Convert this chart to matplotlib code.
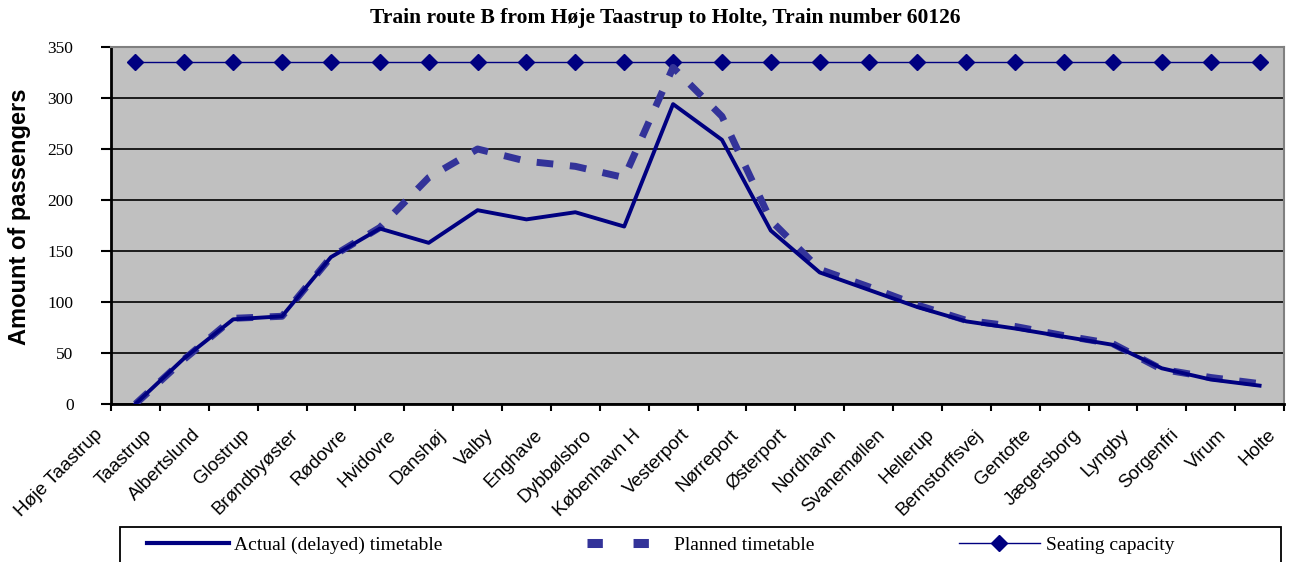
import numpy as np
import matplotlib
matplotlib.use('Agg')
import matplotlib.pyplot as plt
from matplotlib.lines import Line2D
from matplotlib.patches import Rectangle

stations = ['Høje Taastrup', 'Taastrup', 'Albertslund', 'Glostrup', 'Brøndbyøster',
            'Rødovre', 'Hvidovre', 'Danshøj', 'Valby', 'Enghave', 'Dybbølsbro',
            'København H', 'Vesterport', 'Nørreport', 'Østerport', 'Nordhavn',
            'Svanemøllen', 'Hellerup', 'Bernstorffsvej', 'Gentofte', 'Jægersborg',
            'Lyngby', 'Sorgenfri', 'Virum', 'Holte']

actual = [0, 45, 83, 86, 144, 172, 158, 190, 181, 188, 174, 294,
          259, 170, 129, 112, 95, 81, 74, 66, 58, 35, 24, 18]
planned = [0, 44, 84, 86, 144, 173, 222, 250, 238, 233, 222, 330,
           282, 180, 132, 115, 97, 82, 76, 67, 59, 34, 26, 20]
capacity = [335] * 24

W, H = 1289, 562
fig = plt.figure(figsize=(W / 100, H / 100), dpi=100)
ax = fig.add_axes([111 / W, 1 - 404 / H, (1284 - 111) / W, (404 - 47) / H])
ax.set_facecolor('#C0C0C0')

x = np.arange(len(actual)) + 0.5
ax.plot(x, capacity, color='#000080', lw=1, marker='D', ms=8, zorder=3)
ax.plot(x, planned, color='#333399', lw=5, dashes=(2.4, 2.4), zorder=4)
ax.plot(x, actual, color='#000080', lw=2.8, zorder=5)

ax.set_xlim(0, 24)
ax.set_ylim(0, 350)
ax.set_yticks(range(0, 351, 50))
ax.yaxis.grid(True, color='black', lw=1.2)
ax.set_axisbelow(True)

# tick marks on the category borders, labels sit a little left of each tick
ax.set_xticks(range(25))
ax.set_xticklabels([])
for i, name in enumerate(stations):
    ax.annotate(name, xy=(i, 0), xycoords=ax.get_xaxis_transform(),
                xytext=(-12, -16), textcoords='offset points',
                rotation=45, ha='right', va='top', rotation_mode='anchor',
                fontsize=13.5, family='Liberation Sans', annotation_clip=False)
ax.tick_params(axis='x', direction='out', length=5, width=1.5)
ax.tick_params(axis='y', direction='out', length=7, width=1.5, pad=20)
for lab in ax.get_yticklabels():
    lab.set_family('Liberation Serif')
    lab.set_fontsize(12.5)
for s in ['left', 'bottom']:
    ax.spines[s].set_linewidth(2)
for s in ['top', 'right']:
    ax.spines[s].set_color('#808080')
    ax.spines[s].set_linewidth(1.5)

fig.text(20 / W, 1 - 217 / H, 'Amount of passengers', rotation=90, ha='center', va='center',
         fontsize=17, fontweight='bold', family='Liberation Sans')
fig.text(665 / W, 1 - 18 / H, 'Train route B from Høje Taastrup to Holte, Train number 60126',
         ha='center', va='center', fontsize=15.5, fontweight='bold', family='Liberation Serif')

# legend box runs off the bottom edge as in the original
fig.patches.append(Rectangle((120 / W, -0.05), (1281 - 120) / W, (562 - 527) / H + 0.05,
                             transform=fig.transFigure, fill=False, ec='black', lw=1.3))
handles = [Line2D([], [], color='#000080', lw=3),
           Line2D([], [], color='#333399', lw=6.5, dashes=(1.7, 3.4)),
           Line2D([], [], color='#000080', lw=1, marker='D', ms=8)]
leg = fig.legend(handles, ['Actual (delayed) timetable', 'Planned timetable', 'Seating capacity'],
                 loc='center left', bbox_to_anchor=(147 / W, 1 - 545 / H),
                 ncol=3, frameon=False, prop={'family': 'Liberation Serif', 'size': 14},
                 handlelength=4.2, handletextpad=0.3, columnspacing=7.4, borderpad=0,
                 borderaxespad=0)

fig.savefig('out.png', dpi=100)
